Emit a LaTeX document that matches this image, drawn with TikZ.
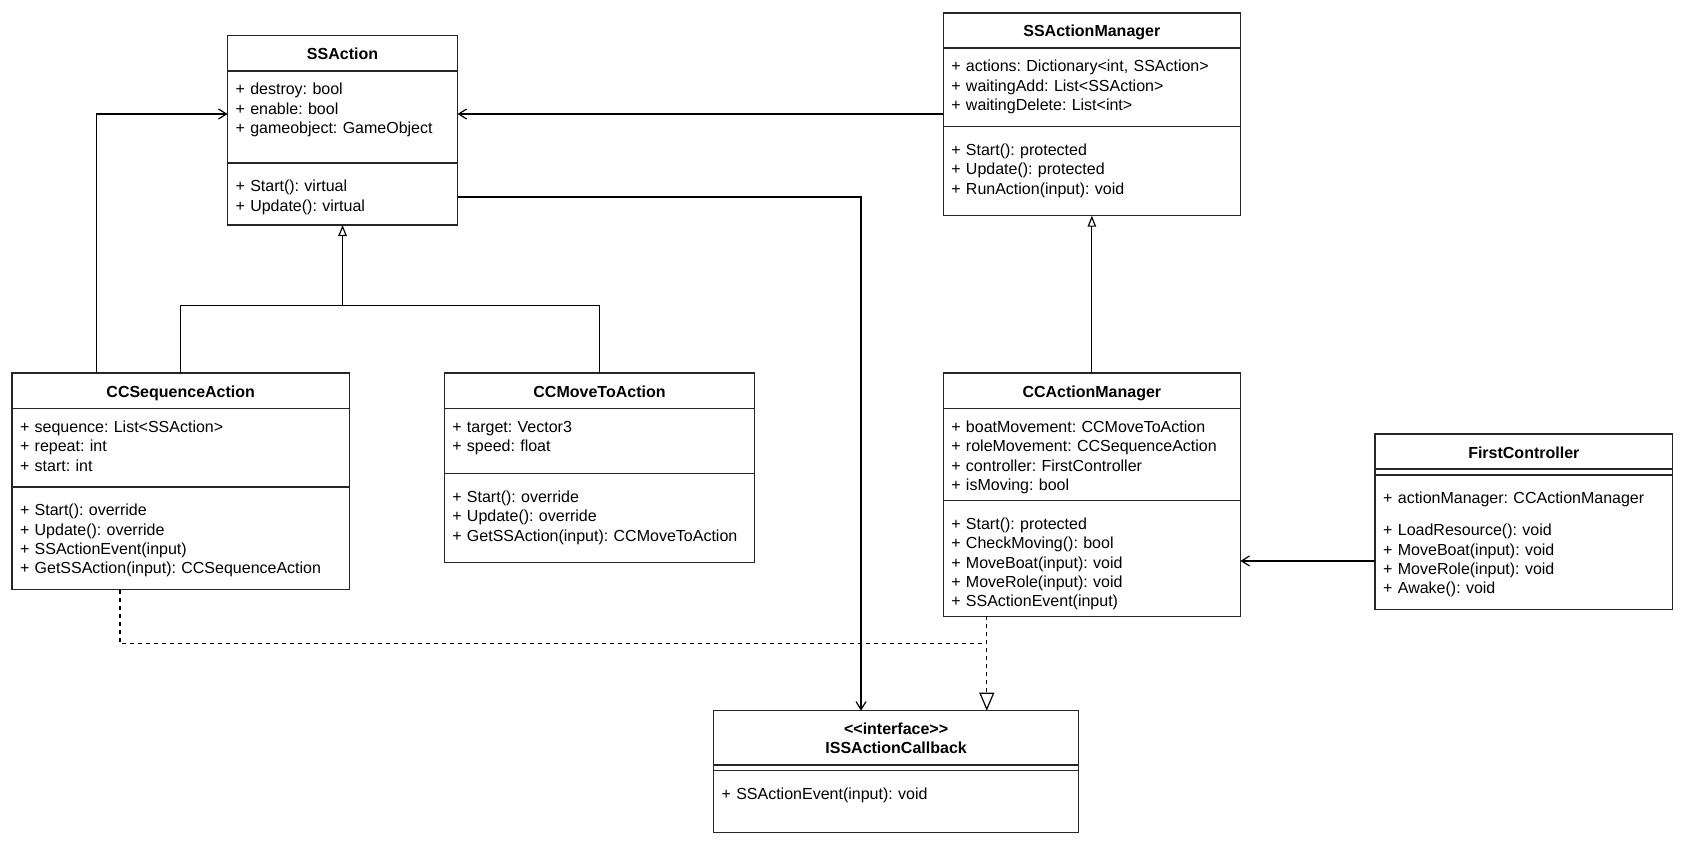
\documentclass[tikz,border=0pt]{standalone}
\usepackage{fontspec}
\setmainfont{Liberation Sans}
\usetikzlibrary{positioning}
\usetikzlibrary{arrows.meta}
\tikzstyle{classhead} = [draw=black!85, rectangle, line width=1.5pt, inner sep=0pt, outer sep=0pt, font=\fontsize{16}{19.2}\selectfont\bfseries, align=center, text height=24pt]
\tikzstyle{classpart} = [draw=black!85, rectangle, line width=1.5pt, inner xsep=8pt, inner ysep=0pt, outer sep=0pt, align=left]
\tikzstyle{assoc} = [line width=1.2pt, -{Straight Barb[length=8pt, width=10pt]}]
\tikzstyle{inherit} = [line width=1.2pt, -{Triangle[open, length=11pt, width=8.5pt]}]
\tikzstyle{realize} = [line width=1.2pt, dash pattern=on 4pt off 4pt, -{Triangle[open, length=18pt, width=15pt]}]

\begin{document}
\frenchspacing
\begin{tikzpicture}[x=1pt, y=-1pt, font=\fontsize{16}{19.2}\selectfont]
  \useasboundingbox (0,0) rectangle (1692,848);

  % SSAction
  \node[classhead, anchor=north west, text width=229.9pt, text depth=11.3pt] (ssa) at (227.6,35.7) {SSAction};
  \node[classpart, below=0pt of ssa, text width=213.9pt, text height=23.9pt, text depth=68.1pt] (ssa_a)
    {+ destroy: bool\\+ enable: bool\\+ gameobject: GameObject};
  \node[classpart, below=0pt of ssa_a, text width=213.9pt, text height=28.9pt, text depth=33.1pt] (ssa_m)
    {+ Start(): virtual\\+ Update(): virtual};

  % SSActionManager
  \node[classhead, anchor=north west, text width=297.1pt, text depth=11pt] (ssam) at (943.3,13) {SSActionManager};
  \node[classpart, below=0pt of ssam, text width=281.1pt, text height=23.9pt, text depth=54.8pt] (ssam_a)
    {+ actions: Dictionary<int, SSAction>\\+ waitingAdd: List<SSAction>\\+ waitingDelete: List<int>};
  \node[classpart, below=0pt of ssam_a, text width=281.1pt, text height=28.9pt, text depth=60.1pt] (ssam_m)
    {+ Start(): protected\\+ Update(): protected\\+ RunAction(input): void};

  % CCSequenceAction
  \node[classhead, anchor=north west, text width=337.4pt, text depth=11.7pt] (ccseq) at (12,373) {CCSequenceAction};
  \node[classpart, below=0pt of ccseq, text width=321.4pt, text height=23.9pt, text depth=54.4pt] (ccseq_a)
    {+ sequence: List<SSAction>\\+ repeat: int\\+ start: int};
  \node[classpart, below=0pt of ccseq_a, text width=321.4pt, text height=28.9pt, text depth=73.8pt] (ccseq_m)
    {+ Start(): override\\+ Update(): override\\+ SSActionEvent(input)\\+ GetSSAction(input): CCSequenceAction};

  % CCMoveToAction
  \node[classhead, anchor=north west, text width=310.4pt, text depth=11.7pt] (ccmove) at (444.3,373) {CCMoveToAction};
  \node[classpart, below=0pt of ccmove, text width=294.4pt, text height=23.9pt, text depth=41.1pt] (ccmove_a)
    {+ target: Vector3\\+ speed: float};
  \node[classpart, below=0pt of ccmove_a, text width=294.4pt, text height=28.9pt, text depth=59.7pt] (ccmove_m)
    {+ Start(): override\\+ Update(): override\\+ GetSSAction(input): CCMoveToAction};

  % CCActionManager
  \node[classhead, anchor=north west, text width=297.1pt, text depth=11.7pt] (ccam) at (943.3,373) {CCActionManager};
  \node[classpart, below=0pt of ccam, text width=281.1pt, text height=23.9pt, text depth=68.1pt] (ccam_a)
    {+ boatMovement: CCMoveToAction\\+ roleMovement: CCSequenceAction\\+ controller: FirstController\\+ isMoving: bool};
  \node[classpart, below=0pt of ccam_a, text width=281.1pt, text height=28.9pt, text depth=86.7pt] (ccam_m)
    {+ Start(): protected\\+ CheckMoving(): bool\\+ MoveBoat(input): void\\+ MoveRole(input): void\\+ SSActionEvent(input)};

  % FirstController
  \node[classhead, anchor=north west, text width=297.2pt, text depth=11pt] (fc) at (1375.2,434) {FirstController};
  \node[classpart, below=0pt of fc, text width=281.2pt, text height=0pt, text depth=6pt] (fc_a) {};
  \node[classpart, below=0pt of fc_a, text width=281.2pt, text height=28.9pt, text depth=105.8pt] (fc_m)
    {+ actionManager: CCActionManager\\[12.8pt]+ LoadResource(): void\\+ MoveBoat(input): void\\+ MoveRole(input): void\\+ Awake(): void};

  % ISSActionCallback
  \node[classhead, anchor=north west, text width=365pt, text height=23.8pt, text depth=30.5pt] (iss) at (713.6,710.7)
    {<\kern0pt<interface>\kern0pt>\\ISSActionCallback};
  \node[classpart, below=0pt of iss, text width=349pt, text height=0pt, text depth=5.7pt] (iss_a) {};
  \node[classpart, below=0pt of iss_a, text width=349pt, text height=28.9pt, text depth=33.1pt] (iss_m)
    {+ SSActionEvent(input): void};

  % associations
  \coordinate (ssa_l) at ([yshift=3pt]ssa_a.west);
  \coordinate (ssa_r) at ([yshift=3pt]ssa_a.east);
  \draw[assoc] ([xshift=84.5pt]ccseq.north west) |- (ssa_l);
  \draw[assoc] (ssam_a.west |- ssa_r) -- (ssa_r);
  \draw[assoc] ([yshift=-3pt]ssa_m.east) -| ([xshift=147.4pt]iss.north west);
  \coordinate (fc_out) at ([yshift=-18.6pt]fc_m.west);
  \draw[assoc] (fc_out) -- (fc_out -| ccam_m.east);

  % generalizations
  \coordinate (ssa_join) at ([yshift=-80.7pt]ssa_m.south);
  \draw[line width=1.2pt] (ccseq.north) |- (ssa_join) -| (ccmove.north);
  \draw[inherit] (ssa_join) -- (ssa_m.south);
  \draw[inherit] (ccam.north) -- (ssam_m.south);

  % realizations
  \coordinate (ccseq_out) at ([xshift=108pt]ccseq_m.south west);
  \coordinate (ccam_out) at ([xshift=43.5pt]ccam_m.south west);
  \coordinate (real_join) at ([yshift=-27.4pt]ccam_out);
  \draw[line width=1.2pt, dash pattern=on 4pt off 4pt] (ccseq_out) |- (real_join);
  \draw[realize] (ccam_out) -- (ccam_out |- iss.north);
\end{tikzpicture}
\end{document}
